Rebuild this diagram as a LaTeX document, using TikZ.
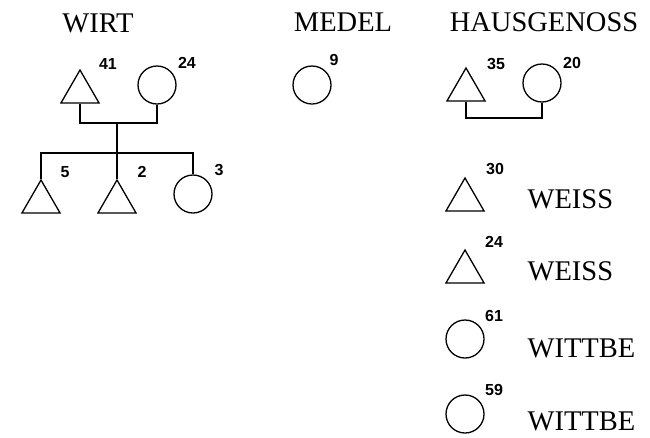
\documentclass[tikz,border=0pt]{standalone}
\usepackage{fontspec}
\setmainfont{Liberation Serif}
\newfontfamily\agefont{Liberation Sans}
\usetikzlibrary{shapes.geometric}
\begin{document}
\begin{tikzpicture}[x=1pt,y=-1pt,line width=1.3pt,
 male/.style={draw,regular polygon,regular polygon sides=3,minimum size=44pt,inner sep=0pt},
 female/.style={draw,circle,minimum size=38pt,inner sep=0pt},
 age/.style={font=\agefont\bfseries\fontsize{16}{16}\selectfont,inner sep=0pt},
 head/.style={font=\fontsize{28.5}{30}\selectfont,anchor=base,inner sep=0pt},
 role/.style={font=\fontsize{28.5}{30}\selectfont,anchor=base west,inner sep=0pt}]
\useasboundingbox (0,0) rectangle (650,437);
\node[head] (wirt) at (98,32) {WIRT};
\node[head] (medel) at (343,31) {MEDEL};
\node[head] (haus) at (544,31) {HAUSGENOSS};
\node[male] (wf) at (80,92) {};
\node[female] (wm) at (157,85) {};
\node[age] at (108,64) {41};
\node[age] at (187,63) {24};
\coordinate (wpar) at (117,123);
\coordinate (wsib) at (117,153);
\node[male] (wc1) at (41,202) {};
\node[male] (wc2) at (117,202) {};
\node[female] (wc3) at (193,194) {};
\node[age] at (65,172) {5};
\node[age] at (142,172) {2};
\node[age] at (219,170) {3};
\draw (wf.south) |- (wpar) -| (wm.south);
\draw (wpar) -- (wc2.north);
\draw (wc1.north) |- (wsib) -| (wc3.north);
\node[female] (md) at (312,85) {};
\node[age] at (334,60) {9};
\node[male] (hf) at (466,90) {};
\node[female] (hm) at (542,83) {};
\node[age] at (496,64) {35};
\node[age] at (572,63) {20};
\coordinate (hpar) at (505,118);
\draw (hf.south) |- (hpar) -| (hm.south);
\node[male] (w1) at (465,200) {};
\node[age] at (495,169) {30};
\node[role] (w1t) at (527,208) {WEISS};
\node[male] (w2) at (465,272) {};
\node[age] at (494,242) {24};
\node[role] (w2t) at (527,280) {WEISS};
\node[female] (b1) at (465,339) {};
\node[age] at (494,316) {61};
\node[role] (b1t) at (527,357) {WITTBE};
\node[female] (b2) at (465,414) {};
\node[age] at (494,390) {59};
\node[role] (b2t) at (527,430) {WITTBE};
\end{tikzpicture}
\end{document}
